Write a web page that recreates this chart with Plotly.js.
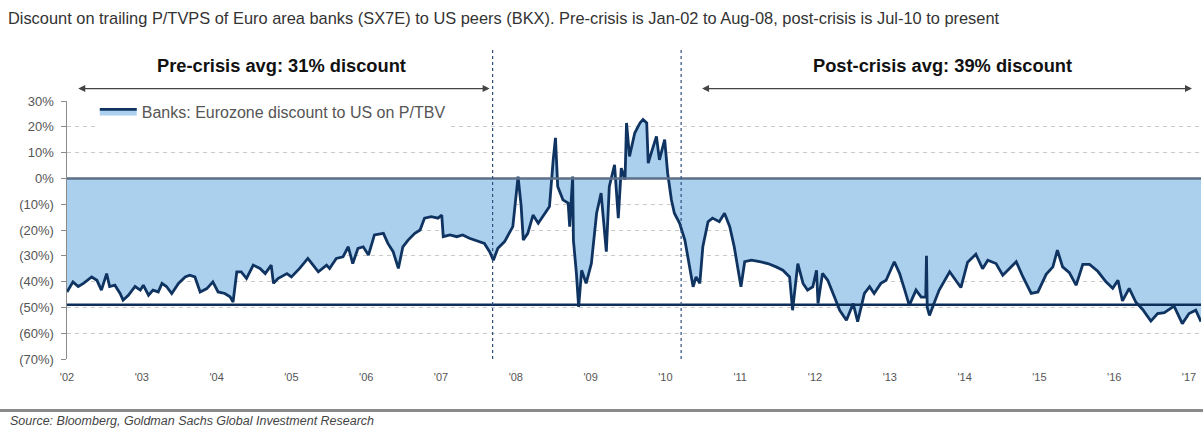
<!DOCTYPE html>
<html>
<head>
<meta charset="utf-8">
<script src="https://cdn.plot.ly/plotly-3.0.1.min.js"></script>
<style>html,body{margin:0;padding:0;background:#fff;}#chart{width:1203px;height:430px;}</style>
</head>
<body>
<div id="chart"></div>
<script>
// Time in decimal years, values = Eurozone bank discount to US on P/TBV (%)
const years = [
2002.00,2002.08,2002.15,2002.22,2002.33,2002.40,2002.46,2002.53,2002.57,2002.64,2002.71,2002.75,2002.82,2002.91,2002.98,
2003.02,2003.09,2003.15,2003.22,2003.27,2003.33,2003.40,2003.49,2003.58,2003.64,2003.71,2003.78,2003.87,2003.95,
2004.02,2004.11,2004.18,2004.22,2004.27,2004.33,2004.40,2004.49,2004.58,2004.65,2004.73,2004.76,2004.82,2004.94,
2005.00,2005.11,2005.22,2005.29,2005.36,2005.47,2005.51,2005.60,2005.69,2005.76,2005.82,2005.89,2005.96,
2006.03,2006.11,2006.23,2006.29,2006.36,2006.43,2006.49,2006.56,2006.65,2006.72,2006.78,2006.87,2006.96,
2007.01,2007.03,2007.12,2007.21,2007.29,2007.38,2007.50,2007.58,2007.65,2007.70,2007.76,2007.85,2007.96,
2008.03,2008.07,2008.10,2008.16,2008.23,2008.30,2008.36,2008.45,2008.50,2008.53,2008.56,2008.63,2008.70,2008.72,2008.76,2008.77,2008.81,2008.84,2008.88,2008.94,
2009.01,2009.08,2009.14,2009.19,2009.21,2009.25,2009.32,2009.37,2009.41,2009.46,2009.48,2009.52,2009.59,2009.66,2009.70,2009.75,2009.77,2009.81,2009.88,2009.92,2009.99,
2010.03,2010.08,2010.12,2010.19,2010.26,2010.32,2010.37,2010.41,2010.46,2010.50,2010.57,2010.63,2010.72,2010.79,2010.86,2010.92,
2011.01,2011.06,2011.15,2011.26,2011.37,2011.48,2011.57,2011.66,2011.70,2011.77,2011.84,2011.90,2011.97,
2012.02,2012.04,2012.10,2012.17,2012.26,2012.33,2012.42,2012.51,2012.57,2012.66,2012.73,2012.79,2012.88,2012.95,
2013.06,2013.13,2013.20,2013.26,2013.35,2013.42,2013.48,2013.49,2013.50,2013.53,2013.59,2013.66,2013.80,2013.89,2013.95,
2014.04,2014.15,2014.24,2014.31,2014.42,2014.51,2014.60,2014.69,2014.78,2014.89,2014.98,
2015.09,2015.18,2015.24,2015.31,2015.40,2015.49,2015.58,2015.67,2015.78,2015.89,2015.98,
2016.05,2016.11,2016.20,2016.29,2016.38,2016.49,2016.58,2016.67,2016.80,2016.91,
2017.00,2017.09,2017.16
];
const discountPct = [
-44.0,-40.1,-41.9,-40.7,-38.2,-39.5,-43.3,-36.9,-41.9,-41.4,-44.6,-47.2,-45.3,-41.9,-43.3,
-41.4,-45.3,-43.3,-44.0,-40.7,-41.9,-44.6,-40.7,-38.2,-37.5,-38.2,-44.0,-42.7,-40.1,
-44.0,-44.6,-45.9,-47.9,-36.2,-36.2,-38.8,-33.6,-34.9,-36.9,-33.6,-40.7,-38.8,-36.9,
-38.2,-34.9,-31.0,-33.6,-36.2,-33.6,-34.9,-31.0,-30.4,-26.5,-33.0,-27.1,-26.5,
-29.7,-21.9,-21.3,-25.2,-28.4,-34.9,-26.5,-23.9,-21.3,-20.0,-15.4,-14.8,-15.4,
-14.2,-22.6,-21.9,-22.6,-21.9,-23.2,-24.5,-25.2,-28.4,-31.7,-27.1,-24.5,-18.7,
0.7,-10.3,-23.9,-21.3,-14.2,-17.4,-14.8,-10.9,7.2,15.7,-3.1,-8.3,-9.6,-18.7,0.7,-23.9,-36.8,-49.8,-35.6,-40.7,
-33.0,-13.5,-5.7,-23.9,-28.4,-3.1,5.3,-15.4,4.0,-0.5,21.5,8.5,17.6,21.5,22.8,21.5,5.9,9.8,16.3,7.2,15.0,
2.0,-8.3,-13.5,-17.4,-23.9,-34.3,-42.0,-38.2,-40.7,-26.5,-16.8,-15.4,-16.8,-13.5,-18.7,-26.5,
-42.0,-32.3,-31.7,-32.3,-33.0,-34.3,-35.6,-38.2,-51.1,-33.0,-40.7,-43.3,-42.0,
-35.6,-48.5,-36.8,-39.5,-46.0,-51.1,-55.0,-48.5,-55.5,-44.6,-42.0,-44.6,-40.7,-39.5,
-32.3,-36.8,-43.3,-49.2,-43.3,-46.0,-46.0,-30.0,-50.0,-53.1,-48.5,-43.3,-36.2,-40.1,-42.3,
-32.5,-29.4,-35.0,-31.7,-33.0,-37.5,-34.9,-32.3,-38.2,-44.6,-44.0,
-37.2,-34.3,-27.8,-34.3,-36.5,-41.4,-33.3,-33.3,-36.0,-40.1,-42.6,
-39.5,-47.5,-42.6,-48.0,-50.8,-55.3,-52.4,-52.0,-49.5,-56.3,
-52.4,-51.1,-55.5
];
const tickYears = [2002,2003,2004,2005,2006,2007,2008,2009,2010,2011,2012,2013,2014,2015,2016,2017];
const tickLabels = ["'02","'03","'04","'05","'06","'07","'08","'09","'10","'11","'12","'13","'14","'15","'16","'17"];
const yTickVals = [30,20,10,0,-10,-20,-30,-40,-50,-60,-70];
const yTickText = ["30%","20%","10%","0%","(10%)","(20%)","(30%)","(40%)","(50%)","(60%)","(70%)"];
const crisisMarkers = [2007.69, 2010.21];
const referenceLevel = [-49];
const preCrisisSpan = [2002.13, 2007.65];
const postCrisisSpan = [2010.47, 2017.04];

const trace = {
  x: years, y: discountPct, type: 'scatter', mode: 'lines',
  name: 'Banks: Eurozone discount to US on P/TBV',
  fill: 'tozeroy', fillcolor: '#abd0ee',
  line: {color: '#0f3461', width: 2.8},
  showlegend: true
};

const shapes = [
  {type:'line', xref:'paper', yref:'y', x0:0, x1:1, y0:0, y1:0, line:{color:'#5d6f88', width:2.5}, layer:'above'},
  {type:'line', xref:'paper', yref:'y', x0:0, x1:1, y0:referenceLevel[0], y1:referenceLevel[0], line:{color:'#0e2f5a', width:2.6}, layer:'above'},
  {type:'line', xref:'paper', yref:'paper', x0:-0.06, x1:1.01, y0:-0.2, y1:-0.2, line:{color:'#8a8a8a', width:3}}
];
crisisMarkers.forEach(function(cx){
  shapes.push({type:'line', xref:'x', yref:'paper', x0:cx, x1:cx, y0:0, y1:1.205, line:{color:'#2d4f7c', width:1.2, dash:'dot'}, layer:'above'});
});

const annotations = [
  {xref:'x', yref:'paper', x:(preCrisisSpan[0]+preCrisisSpan[1])/2-0.02, y:1.136, yanchor:'middle', text:'<b>Pre-crisis avg: 31% discount</b>', showarrow:false, font:{family:'Arial', size:18.3, color:'#111'}},
  {xref:'x', yref:'paper', x:(postCrisisSpan[0]+postCrisisSpan[1])/2-0.055, y:1.136, yanchor:'middle', text:'<b>Post-crisis avg: 39% discount</b>', showarrow:false, font:{family:'Arial', size:18.3, color:'#111'}},
  {xref:'x', yref:'paper', x:preCrisisSpan[1], y:1.048, ax:preCrisisSpan[0], axref:'x', ay:0, ayref:'pixel', text:'', showarrow:true, arrowhead:2, arrowside:'end+start', arrowsize:1, arrowwidth:1.4, arrowcolor:'#444'},
  {xref:'x', yref:'paper', x:postCrisisSpan[1], y:1.048, ax:postCrisisSpan[0], axref:'x', ay:0, ayref:'pixel', text:'', showarrow:true, arrowhead:2, arrowside:'end+start', arrowsize:1, arrowwidth:1.4, arrowcolor:'#444'},
  {xref:'paper', yref:'paper', x:-0.052, y:-0.24, xanchor:'left', yanchor:'middle', text:'Source: Bloomberg, Goldman Sachs Global Investment Research', showarrow:false, font:{family:'Arial', size:12.5, color:'#444', style:'italic'}}
];

const layout = {
  width:1203, height:430,
  margin:{l:67, r:2, t:101, b:71},
  paper_bgcolor:'#fff', plot_bgcolor:'#fff',
  font:{family:'Arial', color:'#555'},
  title:{text:'Discount on trailing P/TVPS of Euro area banks (SX7E) to US peers (BKX). Pre-crisis is Jan-02 to Aug-08, post-crisis is Jul-10 to present',
         x:0.0066, xanchor:'left', y:0.958, yanchor:'middle', xref:'container', yref:'container',
         font:{family:'Arial', size:16.4, color:'#333'}},
  xaxis:{range:[2002, 2017.16], tickvals:tickYears, ticktext:tickLabels, showgrid:false, zeroline:false, showline:false,
         ticks:'', ticklabelstandoff:10, tickfont:{size:11, color:'#555'}, fixedrange:true},
  yaxis:{range:[-70, 30], tickvals:yTickVals, ticktext:yTickText, showgrid:true, gridcolor:'#c9c9c9', griddash:'4px,4px', gridwidth:1,
         zeroline:false, showline:true, linecolor:'#8a8a8a', linewidth:1.5, ticks:'outside', ticklen:5, tickcolor:'#8a8a8a',
         ticklabelstandoff:4, tickfont:{size:13, color:'#555'}, fixedrange:true},
  legend:{x:0.0245, y:1.025, xanchor:'left', yanchor:'top', bgcolor:'#fff', borderwidth:0, itemwidth:37,
          font:{family:'Arial', size:16, color:'#555'}},
  shapes:shapes, annotations:annotations
};

Plotly.newPlot('chart', [trace], layout, {staticPlot:true, displayModeBar:false});
</script>
</body>
</html>
